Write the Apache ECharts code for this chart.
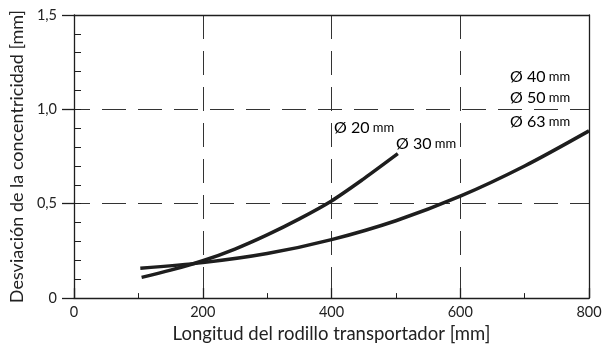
<!DOCTYPE html>
<html>
<head>
<meta charset="utf-8">
<script src="https://cdn.jsdelivr.net/npm/echarts@6/dist/echarts.min.js"></script>
<style>
  html, body { margin: 0; padding: 0; background: #fff; }
  #main { width: 612px; height: 349px; }
</style>
</head>
<body>
<div id="main"></div>
<script>
// curve data
var xSmall = [105, 150, 200, 250, 300, 350, 400, 450, 503];
var ySmall = [0.11, 0.148, 0.198, 0.26, 0.335, 0.42, 0.515, 0.632, 0.765];
var xLarge = [103, 200, 300, 400, 500, 600, 700, 800];
var yLarge = [0.158, 0.188, 0.236, 0.31, 0.41, 0.54, 0.70, 0.886];

var xTicks = [0, 200, 400, 600, 800];
var yTicks = ['0', '0,5', '1,0', '1,5'];

var smallLabels = ['Ø 20', 'Ø 30'];
var largeLabels = ['Ø 40', 'Ø 50', 'Ø 63'];

var font = 'Lato';
var ink = '#1e1e1e';

function pairs(xs, ys) {
    return xs.map(function (x, i) { return [x, ys[i]]; });
}

function diamText(s) {
    return '{d|' + s + '} {u|mm}';
}
var rich = {
    d: { fontFamily: font, fontSize: 16, color: '#222' },
    u: { fontFamily: font, fontSize: 13, color: '#222' }
};

var chart = echarts.init(document.getElementById('main'));

var option = {
    animation: false,
    grid: { left: 74, right: 23, top: 15, bottom: 49 },
    textStyle: { fontFamily: font },
    xAxis: [{
        type: 'value',
        min: 0,
        max: 800,
        interval: 200,
        name: 'Longitud del rodillo transportador [mm]',
        nameLocation: 'middle',
        nameGap: 21,
        nameTextStyle: { fontFamily: font, fontSize: 18.5, color: '#222' },
        axisLine: { show: true, lineStyle: { color: ink, width: 1.3 } },
        axisTick: { show: true, inside: true, length: 10, lineStyle: { color: ink, width: 1.3 } },
        minorTick: { show: true, splitNumber: 2, length: 5, lineStyle: { color: ink, width: 1 } },
        axisLabel: {
            margin: 7,
            fontFamily: font, fontSize: 14.5, color: '#222',
            formatter: function (v) { return xTicks.indexOf(v) >= 0 ? String(v) : ''; }
        },
        splitLine: {
            show: true, showMinLine: false, showMaxLine: false,
            lineStyle: { color: '#333', width: 1, type: [24, 12] }
        }
    }, {
        type: 'value',
        position: 'top',
        min: 0,
        max: 800,
        axisLine: { show: true, onZero: false, lineStyle: { color: ink, width: 1.3 } },
        axisTick: { show: false },
        axisLabel: { show: false },
        splitLine: { show: false }
    }],
    yAxis: [{
        type: 'value',
        min: 0,
        max: 1.5,
        interval: 0.5,
        name: 'Desviación de la concentricidad [mm]',
        nameLocation: 'middle',
        nameGap: 37,
        nameTextStyle: { fontFamily: font, fontSize: 18, color: '#222' },
        axisLine: { show: true, lineStyle: { color: ink, width: 1.3 } },
        axisTick: { show: true, inside: false, length: 12, lineStyle: { color: ink, width: 1.3 } },
        axisLabel: {
            margin: 17,
            fontFamily: font, fontSize: 14.5, color: '#222',
            formatter: function (v) { return yTicks[Math.round(v * 2)]; }
        },
        splitLine: {
            show: true, showMinLine: false, showMaxLine: false,
            lineStyle: { color: '#333', width: 1, type: [24, 12], dashOffset: 8 }
        }
    }, {
        type: 'value',
        position: 'left',
        min: 0,
        max: 1.5,
        interval: 0.1,
        axisLine: { show: false },
        axisTick: { show: true, inside: true, length: 7, lineStyle: { color: ink, width: 1 } },
        axisLabel: { show: false },
        splitLine: { show: false }
    }, {
        type: 'value',
        position: 'right',
        min: 0,
        max: 1.5,
        axisLine: { show: true, onZero: false, lineStyle: { color: ink, width: 1.3 } },
        axisTick: { show: false },
        axisLabel: { show: false },
        splitLine: { show: false }
    }],
    series: [{
        name: 'Ø 20 / Ø 30',
        type: 'line',
        xAxisIndex: 0,
        yAxisIndex: 0,
        data: pairs(xSmall, ySmall),
        smooth: 0.3,
        symbol: 'none',
        lineStyle: { color: ink, width: 3.5, cap: 'butt' }
    }, {
        name: 'Ø 40 / Ø 50 / Ø 63',
        type: 'line',
        xAxisIndex: 0,
        yAxisIndex: 0,
        data: pairs(xLarge, yLarge),
        smooth: 0.3,
        symbol: 'none',
        lineStyle: { color: ink, width: 3.5, cap: 'butt' }
    }],
    graphic: [
        { type: 'text', left: 334, top: 120, style: { text: diamText(smallLabels[0]), rich: rich } },
        { type: 'text', left: 396, top: 136, style: { text: diamText(smallLabels[1]), rich: rich } },
        { type: 'text', left: 510, top: 69, style: { text: diamText(largeLabels[0]), rich: rich } },
        { type: 'text', left: 510, top: 90, style: { text: diamText(largeLabels[1]), rich: rich } },
        { type: 'text', left: 510, top: 114, style: { text: diamText(largeLabels[2]), rich: rich } }
    ]
};

chart.setOption(option);
window.addEventListener('resize', function () { chart.resize(); });
</script>
</body>
</html>
